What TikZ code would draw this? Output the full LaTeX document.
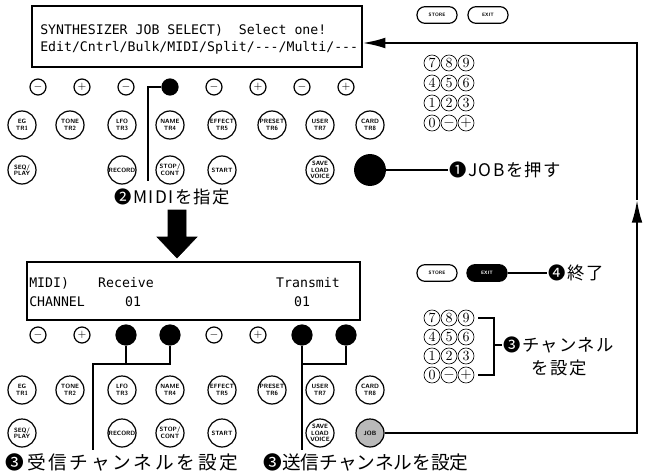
\documentclass[tikz,border=0pt]{standalone}
\usepackage{fontspec}
\newfontfamily\jpfont[LetterSpace=8]{Noto Sans CJK JP}
\newfontfamily\jpwide[LetterSpace=15]{Noto Sans CJK JP}
\newfontfamily\jpnarrow{Noto Sans CJK JP}
\newfontfamily\lcdfont{DejaVu Sans Mono}
\usetikzlibrary{arrows.meta,positioning}

\begin{document}
\begin{tikzpicture}[x=0.75pt,y=-0.75pt,>={Latex[length=17pt,width=8pt]}]
        \tikzset{lcd/.style={draw, line width=0.9pt, inner sep=0pt},
        lcdtext/.style={font=\fontsize{9.9}{12}\lcdfont, anchor=west, inner sep=0pt},
        pm/.style={draw, circle, line width=0.9pt, minimum size=12pt, inner sep=0pt, font=\fontsize{8}{8}\selectfont},
        pmon/.style={pm, fill=black},
        key/.style={draw, circle, line width=0.9pt, minimum size=21pt, inner sep=0pt, align=center,
            font=\fontsize{4.6}{4.9}\sffamily\bfseries},
        pill/.style={draw, rounded corners=6pt, minimum width=30pt, minimum height=12.5pt, inner sep=0pt,
            line width=0.9pt, font=\fontsize{3.6}{4}\sffamily\bfseries},
        num/.style={draw, circle, line width=0.5pt, minimum size=12pt, inner sep=0pt, font=\fontsize{10.5}{10.5}\selectfont},
        note/.style={anchor=west, inner sep=1pt, font=\fontsize{13}{15}\jpfont},
        conn/.style={line width=1.5pt},
        lead/.style={line width=1pt},
        }
        \useasboundingbox (0,0) rectangle (649,474);
%%% upper panel
        \node [pill] (storea) at (437,15) {STORE};
        \node [pill] (exita) at (488,15) {EXIT};
        \node [lcd, minimum width=247.5pt, minimum height=45.75pt] (lcda) at (197,36.5) {};
        \node [lcdtext] (linea1) at (40,30) {SYNTHESIZER JOB SELECT)\ \ Select one!};
        \node [lcdtext] (linea2) at (40,48) {Edit/Cntrl/Bulk/MIDI/Split/-{}-{}-/Multi/-{}-{}-};
        \node [num] (n7a) at (432,63) {7};
        \node [num] (n8a) at (449,63) {8};
        \node [num] (n9a) at (466,63) {9};
        \node [num] (n4a) at (432,83) {4};
        \node [num] (n5a) at (449,83) {5};
        \node [num] (n6a) at (466,83) {6};
        \node [num] (n1a) at (432,103) {1};
        \node [num] (n2a) at (449,103) {2};
        \node [num] (n3a) at (466,103) {3};
        \node [num] (n0a) at (432,123) {0};
        \node [num] (nma) at (449,123) {$-$};
        \node [num] (npa) at (466,123) {$+$};
        \node [pm] (ka1) at (38,87) {$-$};
        \node [pm] (ka2) at (82,87) {$+$};
        \node [pm] (ka3) at (126,87) {$-$};
        \node [pmon] (ka4) at (170,87) {};
        \node [pm] (ka5) at (214,87) {$-$};
        \node [pm] (ka6) at (258,87) {$+$};
        \node [pm] (ka7) at (302,87) {$-$};
        \node [pm] (ka8) at (346,87) {$+$};
        \node [key] (ega) at (22,125) {EG\\TR1};
        \node [key] (tonea) at (70,125) {TONE\\TR2};
        \node [key] (lfoa) at (122,125) {LFO\\TR3};
        \node [key] (namea) at (170,125) {NAME\\TR4};
        \node [key] (effecta) at (222,125) {EFFECT\\TR5};
        \node [key] (preseta) at (272,125) {PRESET\\TR6};
        \node [key] (usera) at (320,125) {USER\\TR7};
        \node [key] (carda) at (370,125) {CARD\\TR8};
        \node [key] (seqa) at (22,170) {SEQ/\\PLAY};
        \node [key] (recorda) at (122,170) {RECORD};
        \node [key] (stopa) at (170,170) {STOP/\\CONT};
        \node [key] (starta) at (222,170) {START};
        \node [key] (savea) at (320,170) {SAVE\\LOAD\\VOICE};
        \node [key, fill=black, minimum size=23pt] (joba) at (370,170) {};
        \node [note] (pusha) at (448,170) {❶JOBを押す};
        \node [note] (midi) at (113,197) {❷MIDIを指定};
        \coordinate (bendm) at (148,87);
        \coordinate (endm) at (148,181);
%%% step arrow
        \draw [fill=black] (168,210) -- (186,210) -- (186,237) -- (197,237) -- (177,258) -- (157,237) -- (168,237) -- cycle;
%%% lower panel
        \node [lcd, minimum width=249.75pt, minimum height=43.5pt] (lcdb) at (193.5,291) {};
        \node [lcdtext] (lineb1) at (29,283) {MIDI)};
        \node [lcdtext, anchor=center] (recvb) at (126,283) {Receive};
        \node [lcdtext, anchor=center] (sendb) at (308,283) {Transmit};
        \node [lcdtext] (lineb2) at (29,302) {CHANNEL};
        \node [lcdtext, anchor=center] (recvch) at (133,302) {01};
        \node [lcdtext, anchor=center] (sendch) at (302,302) {01};
        \node [pill] (storeb) at (437,273) {STORE};
        \node [pill, fill=black, text=white] (exitb) at (487,273) {EXIT};
        \node [note] (endn) at (547,273) {❹終了};
        \node [num] (n7b) at (432,318) {7};
        \node [num] (n8b) at (449,318) {8};
        \node [num] (n9b) at (466,318) {9};
        \node [num] (n4b) at (432,337) {4};
        \node [num] (n5b) at (449,337) {5};
        \node [num] (n6b) at (466,337) {6};
        \node [num] (n1b) at (432,356) {1};
        \node [num] (n2b) at (449,356) {2};
        \node [num] (n3b) at (466,356) {3};
        \node [num] (n0b) at (432,375) {0};
        \node [num] (nmb) at (449,375) {$-$};
        \node [num] (npb) at (466,375) {$+$};
        \node [note] (chan) at (502,345) {❸チャンネル};
        \node [note] (chan2) at (530,368) {を設定};
        \coordinate (brt) at (494,318);
        \coordinate (brm) at (494,345);
        \coordinate (brb) at (494,375);
        \node [pm] (kb1) at (38,335) {$-$};
        \node [pm] (kb2) at (82,335) {$+$};
        \node [pmon, minimum size=15pt] (kb3) at (126,335) {};
        \node [pmon, minimum size=15pt] (kb4) at (170,335) {};
        \node [pm] (kb5) at (214,335) {$-$};
        \node [pm] (kb6) at (258,335) {$+$};
        \node [pmon, minimum size=15pt] (kb7) at (302,335) {};
        \node [pmon, minimum size=15pt] (kb8) at (346,335) {};
        \node [key] (egb) at (22,390) {EG\\TR1};
        \node [key] (toneb) at (70,390) {TONE\\TR2};
        \node [key] (lfob) at (122,390) {LFO\\TR3};
        \node [key] (nameb) at (170,390) {NAME\\TR4};
        \node [key] (effectb) at (222,390) {EFFECT\\TR5};
        \node [key] (presetb) at (272,390) {PRESET\\TR6};
        \node [key] (userb) at (320,390) {USER\\TR7};
        \node [key] (cardb) at (370,390) {CARD\\TR8};
        \node [key] (seqb) at (22,433) {SEQ/\\PLAY};
        \node [key] (recordb) at (122,433) {RECORD};
        \node [key] (stopb) at (170,433) {STOP/\\CONT};
        \node [key] (startb) at (222,433) {START};
        \node [key] (saveb) at (320,433) {SAVE\\LOAD\\VOICE};
        \node [key, fill=gray!55] (jobb) at (370,433) {JOB};
        \node [note, font=\fontsize{14}{16}\jpwide] (recvn) at (4,462) {❸受信チャンネルを設定};
        \node [note, font=\fontsize{14}{16}\jpnarrow] (sendn) at (262,462) {❸送信チャンネルを設定};
        \coordinate (rxa) at (126,364);
        \coordinate (rxb) at (170,364);
        \coordinate (rxl) at (93,364);
        \coordinate (rxe) at (93,450);
        \coordinate (txa) at (302,364);
        \coordinate (txb) at (346,364);
        \coordinate (txe) at (302,450);
        \coordinate (loopb) at (637,433);
        \coordinate (loopm) at (637,200);
        \coordinate (loopt) at (637,43);
%%% paths
        \draw [conn] (ka4) -- (bendm) -- (endm);
        \draw [lead] (joba) -- (pusha);
        \draw [lead] (exitb) -- (endn);
        \draw [lead, shorten <=3pt, shorten >=3pt] (n9b) -- (brt) -- (brb) -- (npb);
        \draw [lead] (brm) -- (chan);
        \draw [conn] (kb3) -- (rxa);
        \draw [conn] (kb4) -- (rxb) -- (rxl) -- (rxe);
        \draw [conn] (kb7) -- (txe);
        \draw [conn] (kb8) -- (txb) -- (txa);
        \draw [conn, ->] (jobb) -- (loopb) -- (loopm);
        \draw [conn, ->] (loopm) -- (loopt) -- (loopt -| lcda.east);
\end{tikzpicture}
\end{document}
